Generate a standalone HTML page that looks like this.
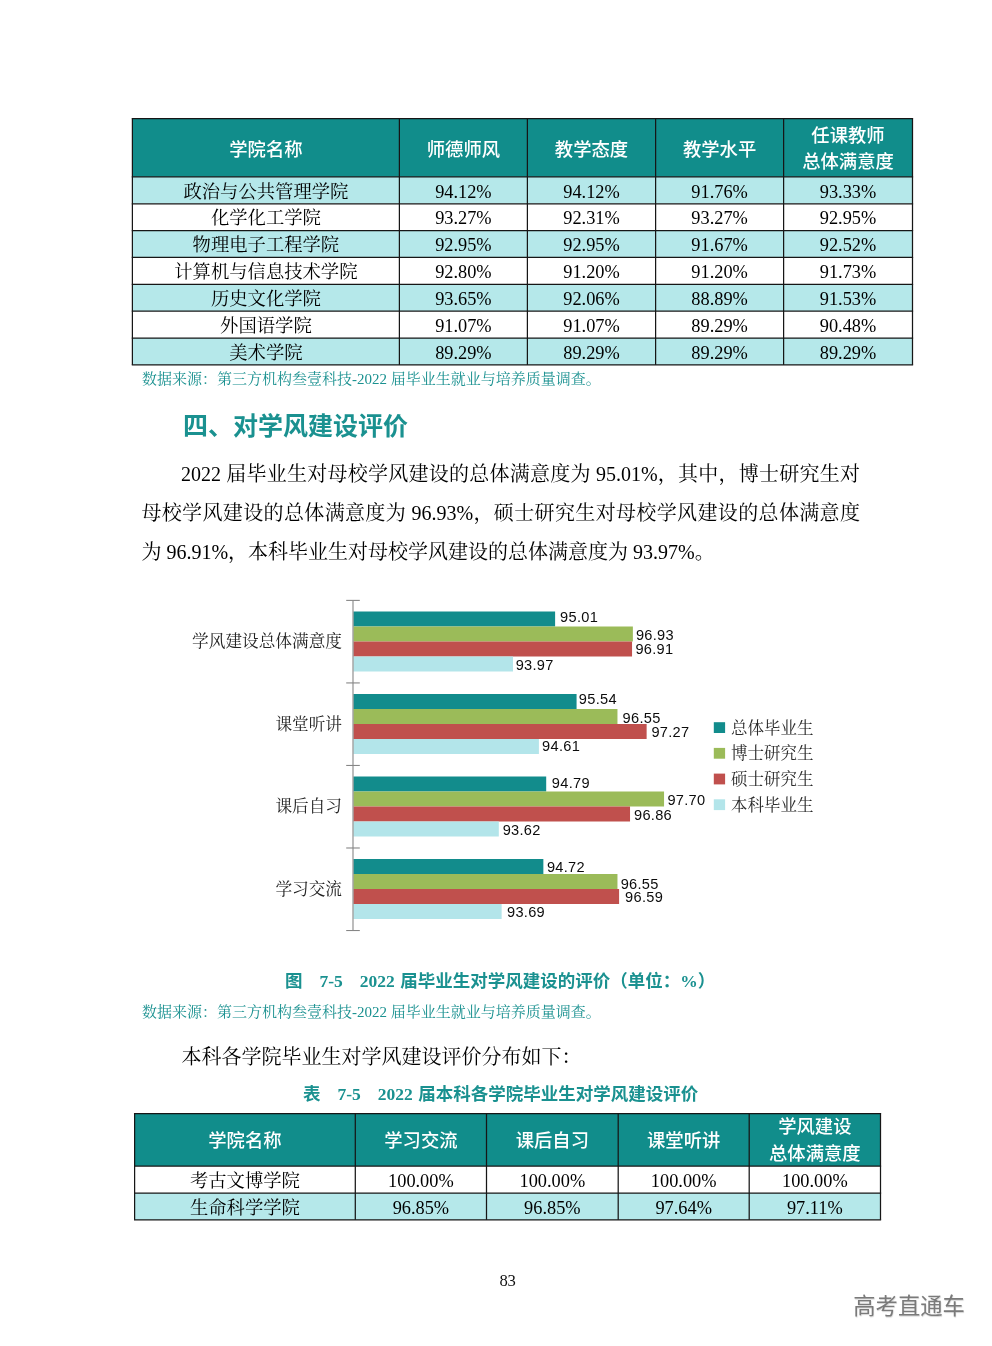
<!DOCTYPE html>
<html lang="zh-CN">
<head>
<meta charset="utf-8">
<title>毕业生就业与培养质量调查 - 第83页</title>
<style>
html,body{margin:0;padding:0;background:#fff;}
body{width:992px;height:1346px;position:relative;overflow:hidden;font-family:"Liberation Serif", "Noto Serif CJK SC", serif;color:#111;}
.abs{position:absolute;white-space:nowrap;}
.cell{position:absolute;box-sizing:border-box;display:flex;align-items:center;justify-content:center;text-align:center;white-space:nowrap;}
.hd{color:#fff;font-family:"Liberation Sans", "Noto Sans CJK SC", sans-serif;font-size:18.33px;line-height:26.3px;font-weight:500;}
.hd span{position:relative;}
.td span{position:relative;top:1.3px;}
.td{font-size:18.33px;color:#000;line-height:24px;}
.src{font-size:15px;color:#1a9190;line-height:20px;}
.body{font-size:20px;line-height:39px;color:#000;}
.just{text-align:justify;text-align-last:justify;white-space:normal;}
.cap{font-size:17.5px;font-weight:bold;color:#1a9190;line-height:22px;font-family:"Liberation Serif","Noto Sans CJK SC",sans-serif;}
.h2{font-family:"Liberation Sans", "Noto Sans CJK SC", sans-serif;font-weight:bold;font-size:25px;color:#1a9190;line-height:30px;}
.cat{font-size:16.67px;color:#222;line-height:20px;text-align:right;}
.lab{font-family:"Liberation Sans",sans-serif;font-size:14.6px;letter-spacing:0.3px;color:#0c0c0c;line-height:16px;}
.leg{font-size:16.5px;color:#2a2a2a;line-height:20px;}
.wm{font-family:"Liberation Sans", "Noto Sans CJK SC", sans-serif;font-size:22.3px;line-height:30px;color:#7a7a7a;font-weight:400;text-shadow:0.5px 0.8px 1px rgba(0,0,0,0.18);}
</style>
</head>
<body>
<svg class="abs" style="left:130px;top:116px;" width="786" height="252" viewBox="130 116 786 252"><rect x="132.4" y="118.50" width="780.10" height="58.40" fill="#118d8b"/><rect x="132.4" y="176.90" width="780.10" height="26.85" fill="#b5e8ea"/><rect x="132.4" y="203.75" width="780.10" height="26.85" fill="#ffffff"/><rect x="132.4" y="230.60" width="780.10" height="26.85" fill="#b5e8ea"/><rect x="132.4" y="257.45" width="780.10" height="26.85" fill="#ffffff"/><rect x="132.4" y="284.30" width="780.10" height="26.85" fill="#b5e8ea"/><rect x="132.4" y="311.15" width="780.10" height="26.85" fill="#ffffff"/><rect x="132.4" y="338.00" width="780.10" height="26.85" fill="#b5e8ea"/><line x1="131.78" y1="118.50" x2="913.12" y2="118.50" stroke="#161616" stroke-width="1.25"/><line x1="131.78" y1="176.90" x2="913.12" y2="176.90" stroke="#161616" stroke-width="1.25"/><line x1="131.78" y1="203.75" x2="913.12" y2="203.75" stroke="#161616" stroke-width="1.25"/><line x1="131.78" y1="230.60" x2="913.12" y2="230.60" stroke="#161616" stroke-width="1.25"/><line x1="131.78" y1="257.45" x2="913.12" y2="257.45" stroke="#161616" stroke-width="1.25"/><line x1="131.78" y1="284.30" x2="913.12" y2="284.30" stroke="#161616" stroke-width="1.25"/><line x1="131.78" y1="311.15" x2="913.12" y2="311.15" stroke="#161616" stroke-width="1.25"/><line x1="131.78" y1="338.00" x2="913.12" y2="338.00" stroke="#161616" stroke-width="1.25"/><line x1="131.78" y1="364.85" x2="913.12" y2="364.85" stroke="#161616" stroke-width="1.25"/><line x1="132.40" y1="118.50" x2="132.40" y2="364.85" stroke="#161616" stroke-width="1.25"/><line x1="399.40" y1="118.50" x2="399.40" y2="364.85" stroke="#161616" stroke-width="1.25"/><line x1="527.40" y1="118.50" x2="527.40" y2="364.85" stroke="#161616" stroke-width="1.25"/><line x1="655.60" y1="118.50" x2="655.60" y2="364.85" stroke="#161616" stroke-width="1.25"/><line x1="783.60" y1="118.50" x2="783.60" y2="364.85" stroke="#161616" stroke-width="1.25"/><line x1="912.50" y1="118.50" x2="912.50" y2="364.85" stroke="#161616" stroke-width="1.25"/></svg>
<div class="cell hd" style="left:132.40px;top:118.50px;width:267.00px;height:58.40px;"><span style="top:2.0px">学院名称</span></div>
<div class="cell hd" style="left:399.40px;top:118.50px;width:128.00px;height:58.40px;"><span style="top:2.0px">师德师风</span></div>
<div class="cell hd" style="left:527.40px;top:118.50px;width:128.20px;height:58.40px;"><span style="top:2.0px">教学态度</span></div>
<div class="cell hd" style="left:655.60px;top:118.50px;width:128.00px;height:58.40px;"><span style="top:2.0px">教学水平</span></div>
<div class="cell hd" style="left:783.60px;top:118.50px;width:128.90px;height:58.40px;"><span style="top:1.6px">任课教师<br>总体满意度</span></div>
<div class="cell td" style="left:132.40px;top:176.90px;width:267.00px;height:26.85px;"><span>政治与公共管理学院</span></div>
<div class="cell td" style="left:399.40px;top:176.90px;width:128.00px;height:26.85px;"><span>94.12%</span></div>
<div class="cell td" style="left:527.40px;top:176.90px;width:128.20px;height:26.85px;"><span>94.12%</span></div>
<div class="cell td" style="left:655.60px;top:176.90px;width:128.00px;height:26.85px;"><span>91.76%</span></div>
<div class="cell td" style="left:783.60px;top:176.90px;width:128.90px;height:26.85px;"><span>93.33%</span></div>
<div class="cell td" style="left:132.40px;top:203.75px;width:267.00px;height:26.85px;"><span>化学化工学院</span></div>
<div class="cell td" style="left:399.40px;top:203.75px;width:128.00px;height:26.85px;"><span>93.27%</span></div>
<div class="cell td" style="left:527.40px;top:203.75px;width:128.20px;height:26.85px;"><span>92.31%</span></div>
<div class="cell td" style="left:655.60px;top:203.75px;width:128.00px;height:26.85px;"><span>93.27%</span></div>
<div class="cell td" style="left:783.60px;top:203.75px;width:128.90px;height:26.85px;"><span>92.95%</span></div>
<div class="cell td" style="left:132.40px;top:230.60px;width:267.00px;height:26.85px;"><span>物理电子工程学院</span></div>
<div class="cell td" style="left:399.40px;top:230.60px;width:128.00px;height:26.85px;"><span>92.95%</span></div>
<div class="cell td" style="left:527.40px;top:230.60px;width:128.20px;height:26.85px;"><span>92.95%</span></div>
<div class="cell td" style="left:655.60px;top:230.60px;width:128.00px;height:26.85px;"><span>91.67%</span></div>
<div class="cell td" style="left:783.60px;top:230.60px;width:128.90px;height:26.85px;"><span>92.52%</span></div>
<div class="cell td" style="left:132.40px;top:257.45px;width:267.00px;height:26.85px;"><span>计算机与信息技术学院</span></div>
<div class="cell td" style="left:399.40px;top:257.45px;width:128.00px;height:26.85px;"><span>92.80%</span></div>
<div class="cell td" style="left:527.40px;top:257.45px;width:128.20px;height:26.85px;"><span>91.20%</span></div>
<div class="cell td" style="left:655.60px;top:257.45px;width:128.00px;height:26.85px;"><span>91.20%</span></div>
<div class="cell td" style="left:783.60px;top:257.45px;width:128.90px;height:26.85px;"><span>91.73%</span></div>
<div class="cell td" style="left:132.40px;top:284.30px;width:267.00px;height:26.85px;"><span>历史文化学院</span></div>
<div class="cell td" style="left:399.40px;top:284.30px;width:128.00px;height:26.85px;"><span>93.65%</span></div>
<div class="cell td" style="left:527.40px;top:284.30px;width:128.20px;height:26.85px;"><span>92.06%</span></div>
<div class="cell td" style="left:655.60px;top:284.30px;width:128.00px;height:26.85px;"><span>88.89%</span></div>
<div class="cell td" style="left:783.60px;top:284.30px;width:128.90px;height:26.85px;"><span>91.53%</span></div>
<div class="cell td" style="left:132.40px;top:311.15px;width:267.00px;height:26.85px;"><span>外国语学院</span></div>
<div class="cell td" style="left:399.40px;top:311.15px;width:128.00px;height:26.85px;"><span>91.07%</span></div>
<div class="cell td" style="left:527.40px;top:311.15px;width:128.20px;height:26.85px;"><span>91.07%</span></div>
<div class="cell td" style="left:655.60px;top:311.15px;width:128.00px;height:26.85px;"><span>89.29%</span></div>
<div class="cell td" style="left:783.60px;top:311.15px;width:128.90px;height:26.85px;"><span>90.48%</span></div>
<div class="cell td" style="left:132.40px;top:338.00px;width:267.00px;height:26.85px;"><span>美术学院</span></div>
<div class="cell td" style="left:399.40px;top:338.00px;width:128.00px;height:26.85px;"><span>89.29%</span></div>
<div class="cell td" style="left:527.40px;top:338.00px;width:128.20px;height:26.85px;"><span>89.29%</span></div>
<div class="cell td" style="left:655.60px;top:338.00px;width:128.00px;height:26.85px;"><span>89.29%</span></div>
<div class="cell td" style="left:783.60px;top:338.00px;width:128.90px;height:26.85px;"><span>89.29%</span></div>
<div class="abs src" style="left:142px;top:369px;">数据来源：第三方机构叁壹科技-2022 届毕业生就业与培养质量调查。</div>
<div class="abs h2" style="left:183px;top:411px;">四、对学风建设评价</div>
<div class="abs body just" style="left:181px;top:454.5px;width:679px;height:39px;overflow:hidden;">2022 届毕业生对母校学风建设的总体满意度为 95.01%，其中，博士研究生对</div>
<div class="abs body just" style="left:141.4px;top:493.5px;width:718.6px;height:39px;overflow:hidden;">母校学风建设的总体满意度为 96.93%，硕士研究生对母校学风建设的总体满意度</div>
<div class="abs body" style="left:141.4px;top:532.5px;">为 96.91%，本科毕业生对母校学风建设的总体满意度为 93.97%。</div>
<svg class="abs" style="left:340px;top:590px;" width="400" height="350" viewBox="340 590 400 350"><rect x="353.4" y="611.50" width="201.71" height="15" fill="#128c8c"/><rect x="353.4" y="626.50" width="279.47" height="15" fill="#9bbb59"/><rect x="353.4" y="641.50" width="278.65" height="15" fill="#c0504d"/><rect x="353.4" y="656.50" width="159.58" height="15" fill="#b3e5ea"/><rect x="353.4" y="694.00" width="223.17" height="15" fill="#128c8c"/><rect x="353.4" y="709.00" width="264.07" height="15" fill="#9bbb59"/><rect x="353.4" y="724.00" width="293.23" height="15" fill="#c0504d"/><rect x="353.4" y="739.00" width="185.50" height="15" fill="#b3e5ea"/><rect x="353.4" y="776.50" width="192.80" height="15" fill="#128c8c"/><rect x="353.4" y="791.50" width="310.65" height="15" fill="#9bbb59"/><rect x="353.4" y="806.50" width="276.63" height="15" fill="#c0504d"/><rect x="353.4" y="821.50" width="145.41" height="15" fill="#b3e5ea"/><rect x="353.4" y="859.00" width="189.96" height="15" fill="#128c8c"/><rect x="353.4" y="874.00" width="264.07" height="15" fill="#9bbb59"/><rect x="353.4" y="889.00" width="265.70" height="15" fill="#c0504d"/><rect x="353.4" y="904.00" width="148.24" height="15" fill="#b3e5ea"/><line x1="353.0" y1="600.4" x2="353.0" y2="930.6" stroke="#868686" stroke-width="1.1"/><line x1="346.2" y1="600.40" x2="359.8" y2="600.40" stroke="#868686" stroke-width="1.1"/><line x1="346.2" y1="682.93" x2="359.8" y2="682.93" stroke="#868686" stroke-width="1.1"/><line x1="346.2" y1="765.46" x2="359.8" y2="765.46" stroke="#868686" stroke-width="1.1"/><line x1="346.2" y1="847.99" x2="359.8" y2="847.99" stroke="#868686" stroke-width="1.1"/><line x1="346.2" y1="930.52" x2="359.8" y2="930.52" stroke="#868686" stroke-width="1.1"/><rect x="713.8" y="722.20" width="11.3" height="10.8" fill="#128c8c"/><rect x="713.8" y="747.90" width="11.3" height="10.8" fill="#9bbb59"/><rect x="713.8" y="773.60" width="11.3" height="10.8" fill="#c0504d"/><rect x="713.8" y="799.30" width="11.3" height="10.8" fill="#b3e5ea"/></svg>
<div class="abs lab" style="left:560.1px;top:608.8px;">95.01</div>
<div class="abs lab" style="left:635.9px;top:627.0px;">96.93</div>
<div class="abs lab" style="left:635.4px;top:641.1px;">96.91</div>
<div class="abs lab" style="left:515.7px;top:656.6px;">93.97</div>
<div class="abs cat" style="left:142px;width:200px;top:632.3px;">学风建设总体满意度</div>
<div class="abs lab" style="left:578.8px;top:691.4px;">95.54</div>
<div class="abs lab" style="left:622.6px;top:709.6px;">96.55</div>
<div class="abs lab" style="left:651.4px;top:723.7px;">97.27</div>
<div class="abs lab" style="left:542.1px;top:738.0px;">94.61</div>
<div class="abs cat" style="left:142px;width:200px;top:714.8px;">课堂听讲</div>
<div class="abs lab" style="left:551.8px;top:775.1px;">94.79</div>
<div class="abs lab" style="left:667.4px;top:792.0px;">97.70</div>
<div class="abs lab" style="left:634.0px;top:807.3px;">96.86</div>
<div class="abs lab" style="left:502.7px;top:822.3px;">93.62</div>
<div class="abs cat" style="left:142px;width:200px;top:797.3px;">课后自习</div>
<div class="abs lab" style="left:546.9px;top:859.0px;">94.72</div>
<div class="abs lab" style="left:620.7px;top:875.9px;">96.55</div>
<div class="abs lab" style="left:625.1px;top:888.8px;">96.59</div>
<div class="abs lab" style="left:507.0px;top:904.1px;">93.69</div>
<div class="abs cat" style="left:142px;width:200px;top:879.8px;">学习交流</div>
<div class="abs leg" style="left:731px;top:718.6px;">总体毕业生</div>
<div class="abs leg" style="left:731px;top:744.3px;">博士研究生</div>
<div class="abs leg" style="left:731px;top:770.0px;">硕士研究生</div>
<div class="abs leg" style="left:731px;top:795.7px;">本科毕业生</div>
<div class="abs cap" style="left:285px;top:970px;">图<span style="display:inline-block;width:17px"></span>7-5<span style="display:inline-block;width:17px"></span>2022<span style="display:inline-block;width:5.4px"></span>届毕业生对学风建设的评价（单位：%）</div>
<div class="abs src" style="left:142px;top:1002px;">数据来源：第三方机构叁壹科技-2022 届毕业生就业与培养质量调查。</div>
<div class="abs body" style="left:181.5px;top:1037.5px;">本科各学院毕业生对学风建设评价分布如下：</div>
<div class="abs cap" style="left:303px;top:1083px;">表<span style="display:inline-block;width:17px"></span>7-5<span style="display:inline-block;width:17px"></span>2022<span style="display:inline-block;width:5.4px"></span>届本科各学院毕业生对学风建设评价</div>
<svg class="abs" style="left:132px;top:1111px;" width="752" height="112" viewBox="132 1111 752 112"><rect x="134.6" y="1113.50" width="745.90" height="52.70" fill="#118d8b"/><rect x="134.6" y="1166.20" width="745.90" height="26.90" fill="#ffffff"/><rect x="134.6" y="1193.10" width="745.90" height="26.70" fill="#b5e8ea"/><line x1="133.97" y1="1113.50" x2="881.12" y2="1113.50" stroke="#161616" stroke-width="1.25"/><line x1="133.97" y1="1166.20" x2="881.12" y2="1166.20" stroke="#161616" stroke-width="1.25"/><line x1="133.97" y1="1193.10" x2="881.12" y2="1193.10" stroke="#161616" stroke-width="1.25"/><line x1="133.97" y1="1219.80" x2="881.12" y2="1219.80" stroke="#161616" stroke-width="1.25"/><line x1="134.60" y1="1113.50" x2="134.60" y2="1219.80" stroke="#161616" stroke-width="1.25"/><line x1="355.30" y1="1113.50" x2="355.30" y2="1219.80" stroke="#161616" stroke-width="1.25"/><line x1="486.50" y1="1113.50" x2="486.50" y2="1219.80" stroke="#161616" stroke-width="1.25"/><line x1="618.20" y1="1113.50" x2="618.20" y2="1219.80" stroke="#161616" stroke-width="1.25"/><line x1="749.20" y1="1113.50" x2="749.20" y2="1219.80" stroke="#161616" stroke-width="1.25"/><line x1="880.50" y1="1113.50" x2="880.50" y2="1219.80" stroke="#161616" stroke-width="1.25"/></svg>
<div class="cell hd" style="left:134.60px;top:1113.50px;width:220.70px;height:52.70px;"><span style="top:1.2px">学院名称</span></div>
<div class="cell hd" style="left:355.30px;top:1113.50px;width:131.20px;height:52.70px;"><span style="top:1.2px">学习交流</span></div>
<div class="cell hd" style="left:486.50px;top:1113.50px;width:131.70px;height:52.70px;"><span style="top:1.2px">课后自习</span></div>
<div class="cell hd" style="left:618.20px;top:1113.50px;width:131.00px;height:52.70px;"><span style="top:1.2px">课堂听讲</span></div>
<div class="cell hd" style="left:749.20px;top:1113.50px;width:131.30px;height:52.70px;"><span style="top:0.9px">学风建设<br>总体满意度</span></div>
<div class="cell td" style="left:134.60px;top:1166.20px;width:220.70px;height:26.90px;"><span>考古文博学院</span></div>
<div class="cell td" style="left:355.30px;top:1166.20px;width:131.20px;height:26.90px;"><span>100.00%</span></div>
<div class="cell td" style="left:486.50px;top:1166.20px;width:131.70px;height:26.90px;"><span>100.00%</span></div>
<div class="cell td" style="left:618.20px;top:1166.20px;width:131.00px;height:26.90px;"><span>100.00%</span></div>
<div class="cell td" style="left:749.20px;top:1166.20px;width:131.30px;height:26.90px;"><span>100.00%</span></div>
<div class="cell td" style="left:134.60px;top:1193.10px;width:220.70px;height:26.70px;"><span>生命科学学院</span></div>
<div class="cell td" style="left:355.30px;top:1193.10px;width:131.20px;height:26.70px;"><span>96.85%</span></div>
<div class="cell td" style="left:486.50px;top:1193.10px;width:131.70px;height:26.70px;"><span>96.85%</span></div>
<div class="cell td" style="left:618.20px;top:1193.10px;width:131.00px;height:26.70px;"><span>97.64%</span></div>
<div class="cell td" style="left:749.20px;top:1193.10px;width:131.30px;height:26.70px;"><span>97.11%</span></div>
<div class="abs" style="left:499.6px;top:1269.6px;font-size:16.67px;line-height:22px;letter-spacing:-0.3px;">83</div>
<div class="abs wm" style="left:853.3px;top:1292.4px;">高考直通车</div>
</body>
</html>
